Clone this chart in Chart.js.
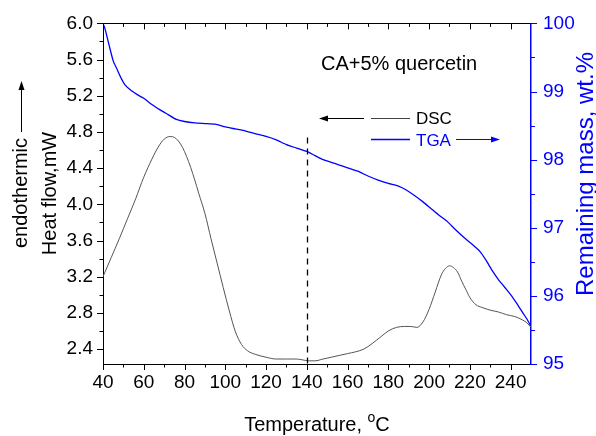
<!DOCTYPE html>
<html>
<head>
<meta charset="utf-8">
<script src="https://cdn.jsdelivr.net/npm/chart.js@4.4.1/dist/chart.umd.min.js"></script>
<style>
  html, body { margin: 0; padding: 0; background: #fff; }
</style>
</head>
<body>
<canvas id="dscChart" width="596" height="436"></canvas>
<script>
// DSC trace, left axis (heat flow, mW)
const dscTemp = [40, 44, 48, 52, 56, 60, 64, 67, 70, 73, 75, 77, 79, 81, 83, 85, 87, 90, 93, 96, 99,
  102, 105, 108, 111, 115, 120, 125, 130, 135, 138, 141, 144, 148, 152, 156, 160, 164, 168, 172, 176,
  180, 184, 188, 191, 194, 197, 200, 203, 206, 208, 210, 212, 214, 216, 218, 220, 223, 226, 230, 234,
  238, 242, 246, 248, 250];
const dscHeat = [3.20, 3.41, 3.62, 3.84, 4.06, 4.30, 4.50, 4.63, 4.72, 4.75, 4.74, 4.70, 4.63, 4.53, 4.41, 4.27, 4.12, 3.90, 3.62, 3.35, 3.08,
  2.82, 2.59, 2.45, 2.38, 2.34, 2.31, 2.29, 2.29, 2.29, 2.28, 2.27, 2.27, 2.29, 2.31, 2.33, 2.35, 2.37, 2.40, 2.46, 2.53,
  2.60, 2.64, 2.65, 2.65, 2.64, 2.70, 2.84, 3.03, 3.22, 3.29, 3.32, 3.30, 3.25, 3.15, 3.06, 2.97, 2.89, 2.86, 2.83, 2.81,
  2.78, 2.76, 2.72, 2.69, 2.64];

// TGA trace, right axis (remaining mass, wt.%)
const tgaTemp = [40, 41, 43, 45, 47, 49, 51, 54, 57, 60, 64, 68, 72, 76, 80, 85, 90, 95, 100, 105,
  110, 115, 120, 125, 130, 135, 140, 144, 148, 152, 156, 160, 165, 170, 175, 180, 185, 189, 193, 197,
  201, 205, 209, 213, 217, 221, 225, 228, 231, 234, 237, 240, 243, 246, 248, 250];
const tgaMass = [100.0, 99.92, 99.68, 99.45, 99.32, 99.19, 99.09, 99.01, 98.95, 98.90, 98.81, 98.73, 98.66, 98.59, 98.56, 98.54, 98.53, 98.52, 98.48, 98.45,
  98.42, 98.38, 98.34, 98.29, 98.22, 98.17, 98.12, 98.06, 98.00, 97.96, 97.92, 97.88, 97.83, 97.76, 97.70, 97.65, 97.61, 97.55, 97.47, 97.38,
  97.28, 97.18, 97.09, 96.97, 96.86, 96.76, 96.65, 96.52, 96.37, 96.24, 96.13, 96.02, 95.89, 95.75, 95.66, 95.55];

// tick labels
const tempTicks = [40, 60, 80, 100, 120, 140, 160, 180, 200, 220, 240];
const heatTicks = [2.4, 2.8, 3.2, 3.6, 4.0, 4.4, 4.8, 5.2, 5.6, 6.0];
const massTicks = [95, 96, 97, 98, 99, 100];

const markerTemp = 140; // dashed line
const markerTop = 4.74;

const FONT = '"Liberation Sans", Arial, sans-serif';
const BLUE = '#0000ff';

const toPoints = (xs, ys) => xs.map((v, i) => ({ x: v, y: ys[i] }));

function arrow(ctx, x1, y1, x2, y2, color) {
  const ang = Math.atan2(y2 - y1, x2 - x1);
  ctx.strokeStyle = color;
  ctx.fillStyle = color;
  ctx.lineWidth = 1;
  ctx.beginPath();
  ctx.moveTo(x1, y1);
  ctx.lineTo(x2 - 7 * Math.cos(ang), y2 - 7 * Math.sin(ang));
  ctx.stroke();
  ctx.beginPath();
  ctx.moveTo(x2, y2);
  ctx.lineTo(x2 - 9 * Math.cos(ang) + 3 * Math.sin(ang), y2 - 9 * Math.sin(ang) - 3 * Math.cos(ang));
  ctx.lineTo(x2 - 9 * Math.cos(ang) - 3 * Math.sin(ang), y2 - 9 * Math.sin(ang) + 3 * Math.cos(ang));
  ctx.closePath();
  ctx.fill();
}

const decor = {
  id: 'decor',
  afterDraw(chart) {
    const { ctx, chartArea: a } = chart;
    const { x, y, y1 } = chart.scales;
    ctx.save();

    // top frame line
    ctx.strokeStyle = '#000';
    ctx.lineWidth = 1;
    ctx.beginPath();
    ctx.moveTo(a.left, Math.round(a.top) + 0.5);
    ctx.lineTo(a.right, Math.round(a.top) + 0.5);
    ctx.stroke();

    const seg = (x0, y0, x1_, y1_, color) => {
      ctx.strokeStyle = color;
      ctx.beginPath();
      ctx.moveTo(x0, y0);
      ctx.lineTo(x1_, y1_);
      ctx.stroke();
    };

    // x ticks, bottom (out) and top (in)
    tempTicks.forEach(v => {
      const px = Math.round(x.getPixelForValue(v)) + 0.5;
      seg(px, a.bottom, px, a.bottom + 6, '#000');
      seg(px, a.top, px, a.top + 6, '#000');
      const mv = v + 10;
      if (mv < 250) {
        const mx = Math.round(x.getPixelForValue(mv)) + 0.5;
        seg(mx, a.bottom, mx, a.bottom + 3.5, '#000');
        seg(mx, a.top, mx, a.top + 3.5, '#000');
      }
    });

    // left axis ticks
    heatTicks.forEach(v => {
      const py = Math.round(y.getPixelForValue(v)) + 0.5;
      seg(a.left - 6, py, a.left, py, '#000');
      const mv = v + 0.2;
      if (mv < 6) {
        const my = Math.round(y.getPixelForValue(mv)) + 0.5;
        seg(a.left - 3.5, my, a.left, my, '#000');
      }
    });

    // right axis ticks
    massTicks.forEach(v => {
      const py = Math.round(y1.getPixelForValue(v)) + 0.5;
      seg(a.right, py, a.right + 6, py, BLUE);
      const mv = v + 0.5;
      if (mv < 100) {
        const my = Math.round(y1.getPixelForValue(mv)) + 0.5;
        seg(a.right, my, a.right + 4, my, BLUE);
      }
    });

    // dashed marker
    const dx = Math.round(x.getPixelForValue(markerTemp)) + 0.5;
    ctx.strokeStyle = '#000';
    ctx.lineWidth = 1.3;
    ctx.setLineDash([6, 5]);
    ctx.beginPath();
    ctx.moveTo(dx, y.getPixelForValue(markerTop));
    ctx.lineTo(dx, a.bottom);
    ctx.stroke();
    ctx.setLineDash([]);

    // sample name
    ctx.fillStyle = '#000';
    ctx.textAlign = 'left';
    ctx.textBaseline = 'alphabetic';
    ctx.font = '20px ' + FONT;
    ctx.fillText('CA+5% quercetin', 321, 70);

    // legend
    ctx.lineWidth = 1;
    seg(371, 118.5, 410, 118.5, '#444');
    arrow(ctx, 364, 118.5, 319, 118.5, '#000');
    ctx.font = '17px ' + FONT;
    ctx.fillStyle = '#000';
    ctx.fillText('DSC', 416, 124);
    ctx.lineWidth = 1.3;
    seg(371, 139.5, 410, 139.5, BLUE);
    ctx.fillStyle = BLUE;
    ctx.fillText('TGA', 416, 146);
    arrow(ctx, 456, 139.5, 500, 139.5, BLUE);

    // left axis titles
    ctx.fillStyle = '#000';
    ctx.font = '20px ' + FONT;
    ctx.save();
    ctx.translate(56, 193.5);
    ctx.rotate(-Math.PI / 2);
    ctx.textAlign = 'center';
    ctx.fillText('Heat flow,mW', 0, 0);
    ctx.restore();

    ctx.save();
    ctx.translate(27, 248);
    ctx.rotate(-Math.PI / 2);
    ctx.textAlign = 'left';
    ctx.fillText('endothermic', 0, 0);
    ctx.restore();
    arrow(ctx, 21.5, 132, 21.5, 81, '#000');

    // right axis title
    ctx.fillStyle = BLUE;
    ctx.font = '24px ' + FONT;
    ctx.save();
    ctx.translate(593, 174);
    ctx.rotate(-Math.PI / 2);
    ctx.textAlign = 'center';
    ctx.fillText('Remaining mass, wt.%', 0, 0);
    ctx.restore();

    // x axis title with superscript
    ctx.fillStyle = '#000';
    ctx.textAlign = 'left';
    const main = 'Temperature, ';
    ctx.font = '20px ' + FONT;
    const w1 = ctx.measureText(main).width;
    const w3 = ctx.measureText('C').width;
    ctx.font = '14px ' + FONT;
    const w2 = ctx.measureText('o').width;
    let tx = 317 - (w1 + w2 + w3) / 2;
    ctx.font = '20px ' + FONT;
    ctx.fillText(main, tx, 431);
    ctx.font = '14px ' + FONT;
    ctx.fillText('o', tx + w1, 422);
    ctx.font = '20px ' + FONT;
    ctx.fillText('C', tx + w1 + w2, 431);

    ctx.restore();
  }
};

const ctx = document.getElementById('dscChart');
new Chart(ctx, {
  type: 'line',
  data: {
    datasets: [
      {
        label: 'DSC',
        data: toPoints(dscTemp, dscHeat),
        yAxisID: 'y',
        borderColor: '#555',
        borderWidth: 1,
        pointRadius: 0,
        cubicInterpolationMode: 'monotone',
        fill: false,
      },
      {
        label: 'TGA',
        data: toPoints(tgaTemp, tgaMass),
        yAxisID: 'y1',
        borderColor: BLUE,
        borderWidth: 1.3,
        pointRadius: 0,
        tension: 0.2,
        fill: false,
      },
    ]
  },
  options: {
    responsive: false,
    animation: false,
    devicePixelRatio: 1,
    layout: { padding: { top: 23, left: 0, right: 0, bottom: 0 } },
    plugins: {
      legend: { display: false },
      tooltip: { enabled: false },
    },
    scales: {
      x: {
        type: 'linear',
        min: 40,
        max: 250,
        afterBuildTicks: s => { s.ticks = tempTicks.map(v => ({ value: v })); },
        afterFit: s => { s.height = 72; },
        ticks: { color: '#000', font: { size: 19, family: FONT }, padding: 7, maxRotation: 0, autoSkip: false },
        grid: { display: true, drawOnChartArea: false, drawTicks: false },
        border: { color: '#000', width: 1 },
      },
      y: {
        type: 'linear',
        position: 'left',
        min: 2.235,
        max: 6.0,
        afterBuildTicks: s => { s.ticks = heatTicks.map(v => ({ value: v })); },
        afterFit: s => { s.width = 103; },
        ticks: { color: '#000', font: { size: 19, family: FONT }, padding: 10, callback: v => v.toFixed(1) },
        grid: { display: true, drawOnChartArea: false, drawTicks: false },
        border: { color: '#000', width: 1 },
      },
      y1: {
        type: 'linear',
        position: 'right',
        min: 95,
        max: 100,
        afterBuildTicks: s => { s.ticks = massTicks.map(v => ({ value: v })); },
        afterFit: s => { s.width = 65; },
        ticks: { color: BLUE, font: { size: 19, family: FONT }, padding: 12 },
        grid: { display: true, drawOnChartArea: false, drawTicks: false },
        border: { color: BLUE, width: 1.5 },
      },
    }
  },
  plugins: [decor],
});
</script>
</body>
</html>
